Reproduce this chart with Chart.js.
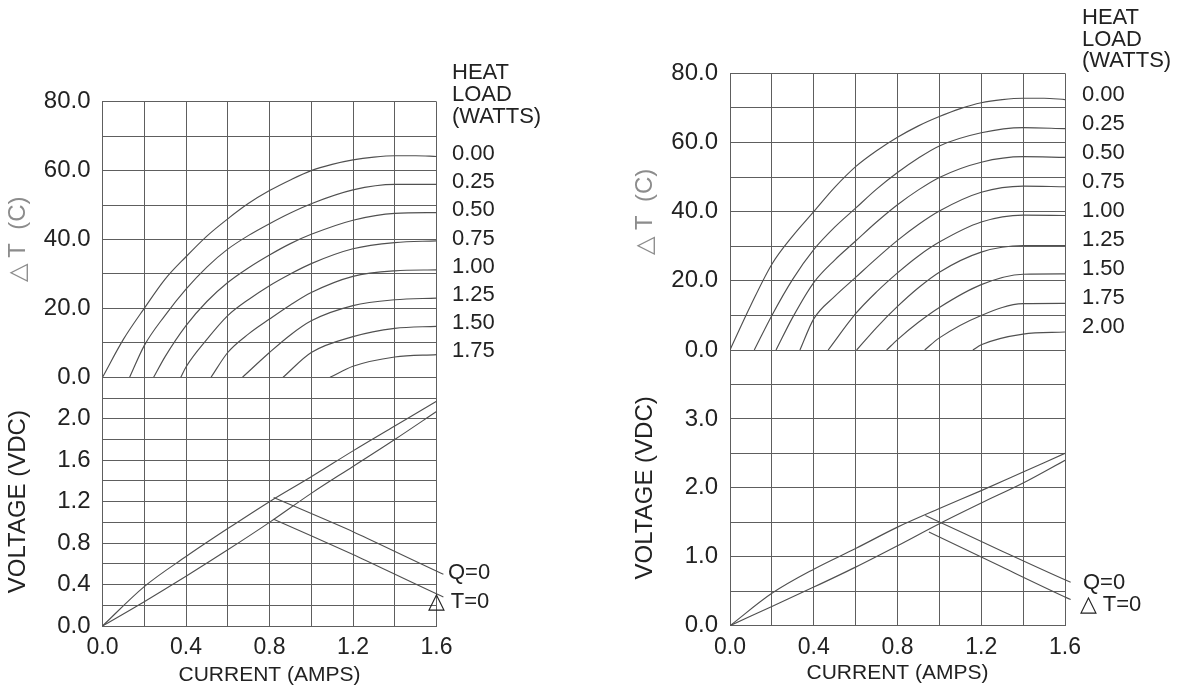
<!DOCTYPE html>
<html>
<head>
<meta charset="utf-8">
<script src="https://cdn.jsdelivr.net/npm/chart.js@4.4.1/dist/chart.umd.min.js"></script>
<style>
  body { margin: 0; background: #fff; }
  #page { position: relative; width: 1182px; height: 692px; overflow: hidden;
          font-family: 'Liberation Sans', Arial, Helvetica, sans-serif; color: #222; }
  #page canvas { position: absolute; left: 0; top: 0; }
  .lbl { position: absolute; font-size: 22px; line-height: 1; white-space: nowrap; transform: translateY(-50%); }
</style>
</head>
<body>
<div id="page">
  <canvas id="leftTop" width="1182" height="692"></canvas>
  <canvas id="leftBottom" width="1182" height="692"></canvas>
  <canvas id="rightTop" width="1182" height="692"></canvas>
  <canvas id="rightBottom" width="1182" height="692"></canvas>
</div>
<script>
// heat load labels
const leftHeatLoads = ['0.00', '0.25', '0.50', '0.75', '1.00', '1.25', '1.50', '1.75'];
const rightHeatLoads = ['0.00', '0.25', '0.50', '0.75', '1.00', '1.25', '1.50', '1.75', '2.00'];
const heatLoadTitle = ['HEAT', 'LOAD', '(WATTS)'];
const voltageLabels = ['Q=0', '\u25B3 T=0'];

// left module: delta T (C) vs current (A), one curve per heat load
const leftQ000 = [[0, 0], [0.1, 11], [0.2, 20], [0.3, 28.5], [0.4, 35], [0.5, 41], [0.6, 46], [0.7, 50.5], [0.8, 54.2], [0.9, 57.3], [1.0, 60], [1.1, 61.8], [1.2, 63.1], [1.3, 63.9], [1.4, 64.3], [1.5, 64.3], [1.6, 64.1]];
const leftQ025 = [[0.13, 0], [0.2, 9.2], [0.3, 18], [0.4, 25.6], [0.5, 32], [0.6, 37.2], [0.7, 41.2], [0.8, 44.6], [0.9, 47.7], [1.0, 50.4], [1.2, 54.4], [1.4, 56], [1.6, 56]];
const leftQ050 = [[0.245, 0], [0.3, 6], [0.4, 15], [0.5, 22], [0.6, 27.5], [0.7, 31.8], [0.8, 35.5], [0.9, 38.8], [1.0, 41.5], [1.2, 45.6], [1.4, 47.6], [1.6, 47.8]];
const leftQ075 = [[0.375, 0], [0.4, 3], [0.5, 11], [0.6, 17.9], [0.7, 22.6], [0.8, 26.6], [0.9, 30], [1.0, 33], [1.2, 37.3], [1.4, 39.1], [1.6, 39.6]];
const leftQ100 = [[0.52, 0], [0.6, 7.2], [0.7, 12.6], [0.8, 16.9], [0.9, 21], [1.0, 24.6], [1.2, 29.3], [1.4, 30.9], [1.6, 31.2]];
const leftQ125 = [[0.67, 0], [0.8, 7.2], [0.9, 12.3], [1.0, 16.4], [1.2, 20.8], [1.4, 22.5], [1.6, 23]];
const leftQ150 = [[0.865, 0], [1.0, 7.2], [1.2, 11.8], [1.4, 14.2], [1.6, 14.8]];
const leftQ175 = [[1.09, 0], [1.2, 3.2], [1.4, 5.9], [1.6, 6.6]];

// right module
const rightQ000 = [[0, 0], [0.1, 13], [0.2, 24.8], [0.3, 33], [0.4, 40], [0.5, 47], [0.6, 53], [0.7, 57.6], [0.8, 61.5], [0.9, 64.8], [1.0, 67.5], [1.1, 69.8], [1.2, 71.5], [1.3, 72.4], [1.4, 72.8], [1.5, 72.8], [1.6, 72.4]];
const rightQ025 = [[0.116, 0], [0.2, 10], [0.3, 20.5], [0.4, 29], [0.5, 35.5], [0.6, 41], [0.7, 46.5], [0.8, 51.3], [0.9, 55.5], [1.0, 59], [1.2, 62.8], [1.4, 64.3], [1.6, 64]];
const rightQ050 = [[0.22, 0], [0.3, 9.5], [0.4, 19.5], [0.5, 26], [0.6, 31.5], [0.7, 37], [0.8, 42], [0.9, 46.3], [1.0, 49.9], [1.2, 54.3], [1.4, 55.9], [1.6, 55.7]];
const rightQ075 = [[0.334, 0], [0.4, 9], [0.5, 15.5], [0.6, 21], [0.7, 26.5], [0.8, 31.7], [0.9, 36.3], [1.0, 40.2], [1.2, 45.6], [1.4, 47.4], [1.6, 47.2]];
const rightQ100 = [[0.469, 0], [0.6, 10.5], [0.7, 16.8], [0.8, 22.3], [0.9, 27.2], [1.0, 31.2], [1.2, 37], [1.4, 39], [1.6, 38.9]];
const rightQ125 = [[0.605, 0], [0.7, 6.5], [0.8, 12.6], [0.9, 18], [1.0, 22.5], [1.2, 28.3], [1.4, 30.2], [1.6, 30.2]];
const rightQ150 = [[0.748, 0], [0.8, 3], [0.9, 8], [1.0, 12.3], [1.2, 18.9], [1.4, 21.9], [1.6, 22]];
const rightQ175 = [[0.93, 0], [1.0, 3.5], [1.2, 10], [1.4, 13.4], [1.6, 13.5]];
const rightQ200 = [[1.16, 0], [1.2, 1.5], [1.4, 4.6], [1.6, 5.2]];

// voltage (VDC) vs current (A)
const leftVoltQ0 = [[0, 0], [0.2, 0.38], [0.4, 0.67], [0.6, 0.94], [0.8, 1.2], [1.0, 1.44], [1.2, 1.69], [1.4, 1.93], [1.6, 2.17]];
const leftVoltDT0 = [[0, 0], [0.2, 0.235], [0.4, 0.48], [0.6, 0.735], [0.8, 1.0], [1.0, 1.28], [1.2, 1.54], [1.4, 1.8], [1.6, 2.07]];
const leftLeaderQ0 = [[0.82, 1.24], [1.2, 0.91], [1.633, 0.5], [1.657, 0.5]];
const leftLeaderDT0 = [[0.82, 1.03], [1.2, 0.69], [1.633, 0.28], [1.657, 0.28]];
const rightVoltQ0 = [[0, 0], [0.2, 0.47], [0.4, 0.82], [0.6, 1.12], [0.8, 1.43], [1.0, 1.70], [1.2, 1.96], [1.4, 2.23], [1.6, 2.50]];
const rightVoltDT0 = [[0, 0], [0.2, 0.28], [0.4, 0.56], [0.6, 0.85], [0.8, 1.16], [1.0, 1.48], [1.2, 1.78], [1.4, 2.07], [1.6, 2.40]];
const rightLeaderQ0 = [[0.933, 1.6], [1.3, 1.08], [1.627, 0.63], [1.655, 0.63]];
const rightLeaderDT0 = [[0.95, 1.36], [1.3, 0.85], [1.627, 0.38], [1.655, 0.38]];

const FONT = "'Liberation Sans', Arial, Helvetica, sans-serif";
const GRID = '#5e5e5e';
const INK = '#505050';
const W = 1182, H = 692, Y_AXIS_W = 100;

function curve(points) {
  return { data: points, borderColor: INK, borderWidth: 1.15, pointRadius: 0, cubicInterpolationMode: 'monotone', fill: false };
}
function leader(points) {
  return { data: points, borderColor: INK, borderWidth: 1.1, pointRadius: 0, tension: 0.2, fill: false, clip: false };
}

function drawChart(id, area, cfg) {
  const xH = cfg.xTitle ? cfg.xHeight : 0;
  return new Chart(document.getElementById(id), {
    type: 'line',
    data: { datasets: cfg.datasets },
    options: {
      responsive: false,
      animation: false,
      events: [],
      layout: { padding: { left: area.left - Y_AXIS_W, right: W - area.right, top: area.top, bottom: H - area.bottom - xH } },
      plugins: { legend: { display: false }, tooltip: { enabled: false } },
      scales: {
        x: {
          type: 'linear', min: 0, max: 1.6,
          afterFit: s => { s.height = xH; },
          grid: { color: GRID, drawTicks: false },
          border: { color: GRID },
          ticks: {
            display: !!cfg.xTitle, stepSize: 0.2, padding: 8, autoSkip: false, maxRotation: 0,
            color: '#222', font: { family: FONT, size: 23 },
            callback: v => (Math.round(v * 10) % 4 === 0 ? v.toFixed(1) : '')
          },
          title: { display: !!cfg.xTitle, text: cfg.xTitle, color: '#222', font: { family: FONT, size: 21 }, padding: { bottom: 4 } }
        },
        y: {
          type: 'linear', min: 0, max: cfg.yMax,
          afterFit: s => { s.width = Y_AXIS_W; },
          grid: { color: GRID, drawTicks: false },
          border: { color: GRID },
          ticks: {
            stepSize: cfg.yStep, padding: 12, autoSkip: false,
            color: '#222', font: { family: FONT, size: 24 },
            callback: cfg.yLabel
          },
          title: { display: true, text: cfg.yTitle, color: cfg.yTitleColor, font: { family: FONT, size: 24 }, padding: { top: 1 } }
        }
      }
    }
  });
}

const dtLabel = v => (v % 20 === 0 ? v.toFixed(1) : '');

drawChart('leftTop', { left: 102.5, right: 436.5, top: 101.7, bottom: 377.3 }, {
  datasets: [leftQ000, leftQ025, leftQ050, leftQ075, leftQ100, leftQ125, leftQ150, leftQ175].map(curve),
  yMax: 80, yStep: 10, yLabel: dtLabel, yTitle: '\u25B3 T  (C)', yTitleColor: '#8c8c8c'
});
drawChart('leftBottom', { left: 102.5, right: 436.5, top: 377.3, bottom: 626 }, {
  datasets: [curve(leftVoltQ0), curve(leftVoltDT0), leader(leftLeaderQ0), leader(leftLeaderDT0)],
  yMax: 2.4, yStep: 0.2,
  yLabel: v => { const r = Math.round(v * 10); return r % 4 === 0 && r < 24 ? v.toFixed(1) : ''; },
  yTitle: 'VOLTAGE (VDC)', yTitleColor: '#222', xTitle: 'CURRENT (AMPS)', xHeight: 66
});
drawChart('rightTop', { left: 730, right: 1065, top: 73.3, bottom: 350 }, {
  datasets: [rightQ000, rightQ025, rightQ050, rightQ075, rightQ100, rightQ125, rightQ150, rightQ175, rightQ200].map(curve),
  yMax: 80, yStep: 10, yLabel: dtLabel, yTitle: '\u25B3 T  (C)', yTitleColor: '#8c8c8c'
});
drawChart('rightBottom', { left: 730, right: 1065, top: 350, bottom: 625.7 }, {
  datasets: [curve(rightVoltQ0), curve(rightVoltDT0), leader(rightLeaderQ0), leader(rightLeaderDT0)],
  yMax: 4, yStep: 0.5,
  yLabel: v => { const r = Math.round(v * 10); return r % 10 === 0 && r < 40 ? v.toFixed(1) : ''; },
  yTitle: 'VOLTAGE (VDC)', yTitleColor: '#222', xTitle: 'CURRENT (AMPS)', xHeight: 64.5
});

// side labels
const page = document.getElementById('page');
function addLabel(text, x, y) {
  const d = document.createElement('div');
  d.className = 'lbl';
  d.textContent = text;
  d.style.left = x + 'px';
  d.style.top = y + 'px';
  page.appendChild(d);
}
heatLoadTitle.forEach((t, i) => addLabel(t, 452, 72 + i * 22));
leftHeatLoads.forEach((t, i) => addLabel(t, 452, 153 + i * 28.2));
heatLoadTitle.forEach((t, i) => addLabel(t, 1082, 17 + i * 21.5));
rightHeatLoads.forEach((t, i) => addLabel(t, 1082, 94 + i * 29));
addLabel(voltageLabels[0], 448, 572);
addLabel(voltageLabels[1], 428, 601);
addLabel(voltageLabels[0], 1083, 582);
addLabel(voltageLabels[1], 1080, 604);
</script>
</body>
</html>
